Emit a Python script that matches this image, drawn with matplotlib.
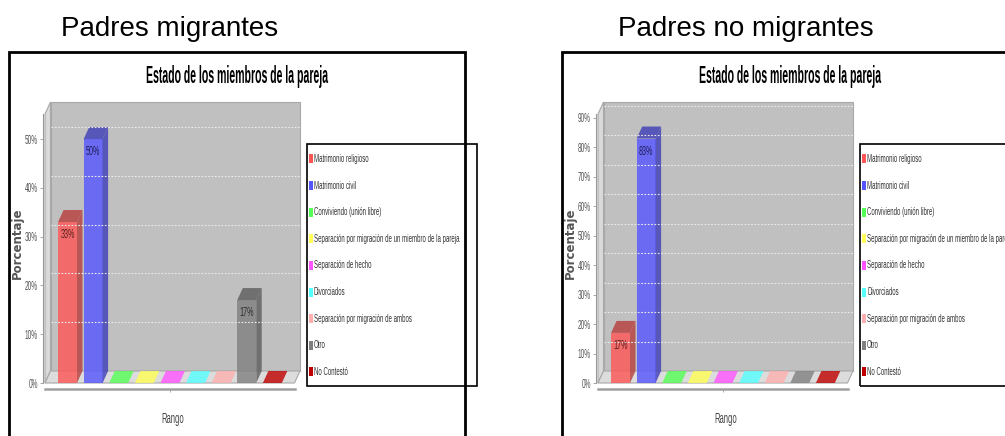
import os
import tempfile
import numpy as np
import matplotlib
matplotlib.use("Agg")
import matplotlib.pyplot as plt
from matplotlib import font_manager as fm
from matplotlib.patches import Rectangle, Polygon
from matplotlib.ticker import MultipleLocator, PercentFormatter

# datos
categorias = ["Matrimonio religioso", "Matrimonio civil", "Conviviendo (unión libre)",
              "Separación por migración de un miembro de la pareja", "Separación de hecho",
              "Divorciados", "Separación por migración de ambos", "Otro", "No Contestó"]
migrantes = [33, 50, 0, 0, 0, 0, 0, 17, 0]
no_migrantes = [17, 83, 0, 0, 0, 0, 0, 0, 0]
colores = ["#ff5555", "#5555ff", "#55ff55", "#ffff55", "#ff55ff",
           "#55ffff", "#ffafaf", "#808080", "#c00000"]
titulos = ["Padres migrantes", "Padres no migrantes"]
titulo_grafico = "Estado de los miembros de la pareja"

W, H = 1005, 436


# no hay fuentes "narrow" instaladas: se genera una version estrecha de Liberation Sans
def make_condensed(bold, sx):
    path = fm.findfont(fm.FontProperties(family="Liberation Sans", weight="bold" if bold else "normal"))
    try:
        from fontTools.ttLib import TTFont
        f = TTFont(path)
        glyf = f["glyf"]
        for name in f.getGlyphOrder():
            g = glyf[name]
            if g.isComposite():
                for comp in g.components:
                    comp.x = int(round(comp.x * sx))
            elif g.numberOfContours > 0:
                g.coordinates.scale((sx, 1))
                g.coordinates.toInt()
        hm = f["hmtx"].metrics
        for name, (adv, lsb) in list(hm.items()):
            hm[name] = (int(round(adv * sx)), int(round(lsb * sx)))
        for t in ("hdmx", "LTSH", "VDMX", "kern", "GPOS"):
            if t in f:
                del f[t]
        out = os.path.join(tempfile.mkdtemp(), "narrow_%d.ttf" % bold)
        f.save(out)
        return out
    except Exception:
        return path


NARROW = make_condensed(False, 0.55)
NARROW_B = make_condensed(True, 0.45)

fig = plt.figure(figsize=(W / 100, H / 100), dpi=100)
fig.patch.set_facecolor("white")
rend = fig.canvas.get_renderer()


def font(size, bold=False):
    return fm.FontProperties(fname=NARROW_B if bold else NARROW, size=size)


def size_for(s, width_px, bold=False, cap=None):
    w, h, d = rend.get_text_width_height_descent(s, font(10, bold), ismath=False)
    sz = 10 * width_px / w
    return min(sz, cap) if cap else sz


def fx(x):
    return x / W


def fy(y):
    return 1 - y / H


def darker(c, k):
    r, g, b = matplotlib.colors.to_rgb(c)
    return (r * k, g * k, b * k)


tick_size = size_for("50%", 13)
leg_size = size_for(categorias[3], 146, cap=9)
tit_size = size_for(titulo_grafico, 183, bold=True, cap=18)
rango_size = size_for("Rango", 23, cap=10)


def panel(ox, valores, ytop, title_x, titulo):
    # marco exterior
    fig.add_artist(Rectangle((fx(9 + ox), fy(440)), fx(456), 388 / H, transform=fig.transFigure,
                             fill=False, edgecolor="black", linewidth=2))
    fig.text(fx(title_x), fy(36), titulo, ha="center", va="baseline",
             family="Liberation Sans", fontsize=20)
    fig.text(fx(237 + ox), fy(83), titulo_grafico, ha="center", va="baseline",
             fontproperties=font(tit_size, True), color="black")

    # area de trazado (frente izquierdo hasta fondo derecho)
    x0, x1, y0, y1 = 45 + ox, 300 + ox, 102, 383
    ax = fig.add_axes([fx(x0), fy(y1), fx(x1 - x0), (y1 - y0) / H])
    ax.set_facecolor("none")
    xlim = (-0.88, 9.08)
    ax.set_xlim(*xlim)
    ax.set_ylim(0, ytop)
    dx = 5.5 * (xlim[1] - xlim[0]) / (x1 - x0)
    dy = 12 * ytop / (y1 - y0)
    xl, xr = xlim[0], xlim[1] - dx

    # paredes y piso
    ax.add_patch(Rectangle((xl + dx, dy), xr - xl, ytop - dy, facecolor="#c0c0c0",
                           edgecolor="#a8a8a8", lw=0.8, clip_on=False))
    grid = np.arange(10, ytop - dy, 10)
    ax.hlines(grid + dy, xl + dx, xr + dx, colors="#ececec", linestyles=(0, (1.5, 1.5)), lw=0.8)
    ax.add_patch(Polygon([(xl, 0), (xl + dx, dy), (xl + dx, ytop), (xl, ytop - dy)],
                         facecolor="#dadada", edgecolor="#a8a8a8", lw=0.8, clip_on=False))
    ax.add_patch(Polygon([(xl, 0), (xr, 0), (xr + dx, dy), (xl + dx, dy)],
                         facecolor="#dcdcdc", edgecolor="#a8a8a8", lw=0.8, clip_on=False))

    # barras 3D
    bw = 0.74
    xs = np.arange(len(valores))
    for x, v, c in zip(xs, valores, colores):
        ax.bar(x, v, width=bw, color=c, alpha=0.8, linewidth=0)
        dc = darker(c, 0.72)
        ax.add_patch(Polygon([(x + bw / 2, 0), (x + bw / 2 + dx, dy), (x + bw / 2 + dx, v + dy), (x + bw / 2, v)],
                             facecolor=dc, alpha=0.8, lw=0, clip_on=False))
        ax.add_patch(Polygon([(x - bw / 2, v), (x + bw / 2, v), (x + bw / 2 + dx, v + dy), (x - bw / 2 + dx, v + dy)],
                             facecolor=dc if v > 0 else c, alpha=0.8, lw=0, clip_on=False))
        if v > 0:
            ax.text(x, v - 13 * ytop / (y1 - y0), f"{v}%", ha="center", va="center",
                    fontproperties=font(tick_size * 1.1), color=darker(c, 0.35))

    # ejes
    for s in ("top", "right"):
        ax.spines[s].set_visible(False)
    ax.spines["left"].set_position(("outward", 1.5))
    ax.spines["left"].set_bounds(0, ytop - dy)
    ax.spines["left"].set_color("#999999")
    ax.spines["left"].set_linewidth(0.8)
    ax.spines["bottom"].set_position(("outward", 4.5))
    ax.spines["bottom"].set_bounds(xl, xr)
    ax.spines["bottom"].set_color("#a0a0a0")
    ax.spines["bottom"].set_linewidth(1.8)
    ax.yaxis.set_major_locator(MultipleLocator(10))
    ax.yaxis.set_major_formatter(PercentFormatter(decimals=0))
    ax.tick_params(axis="y", length=2.5, width=0.6, color="#999999", labelcolor="#555555", pad=1)
    for lab in ax.get_yticklabels():
        lab.set_fontproperties(font(tick_size))
    ax.set_xticks([(xl + xr) / 2])
    ax.set_xticklabels([""])
    ax.tick_params(axis="x", length=2.5, width=0.6, color="#a0a0a0")
    ax.set_xlabel("Rango", fontproperties=font(rango_size), color="#444444")
    ax.xaxis.set_label_coords(0.5, -(412 - y1) / (y1 - y0))
    ax.set_ylabel("Porcentaje", family="DejaVu Sans", fontweight="bold", fontsize=8.5, color="#555555")
    ax.yaxis.set_label_coords((24 + ox - x0) / (x1 - x0), (y1 - 243) / (y1 - y0))

    # leyenda
    lx0, ly0, ly1 = 307 + ox, 144, 386
    fig.add_artist(Rectangle((fx(lx0), fy(ly1)), fx(170), (ly1 - ly0) / H, transform=fig.transFigure,
                             fill=False, edgecolor="black", linewidth=1.2))
    for i, (cat, c) in enumerate(zip(categorias, colores)):
        yy = 159 + i * 26.6
        fig.add_artist(Rectangle((fx(lx0 + 2), fy(yy + 4.5)), fx(4), 9 / H, transform=fig.transFigure,
                                 facecolor=c, edgecolor="none"))
        fig.text(fx(lx0 + 7), fy(yy), cat, ha="left", va="center",
                 fontproperties=font(leg_size), color="#333333")


panel(0, migrantes, 57.6, 170, titulos[0])
panel(553, no_migrantes, 95.4, 746, titulos[1])

fig.savefig("out.png", dpi=100, facecolor="white")
